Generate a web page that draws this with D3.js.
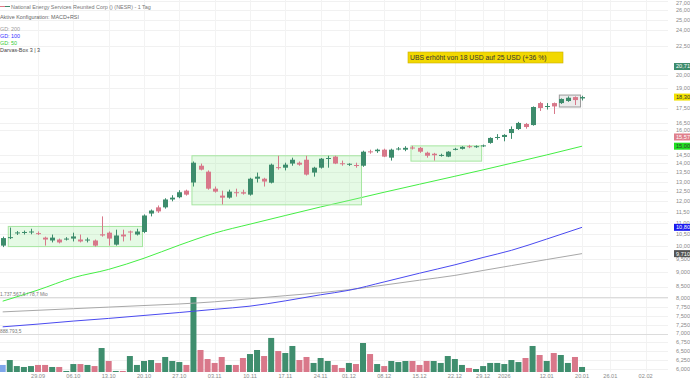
<!DOCTYPE html>
<html>
<head>
<meta charset="utf-8">
<script src="https://cdn.jsdelivr.net/npm/d3@7"></script>
<style>
  body { margin: 0; background: #fff; }
  svg { display: block; font-family: "Liberation Sans", Arial, sans-serif; }
</style>
</head>
<body>
<svg id="chart" width="690" height="380"></svg>
<script>
// trading days shown as candles
const dates = [
  "22.09","23.09","24.09","25.09","26.09","29.09","30.09",
  "01.10","02.10","03.10","06.10","07.10","08.10","09.10","10.10","13.10","14.10","15.10","16.10","17.10",
  "20.10","21.10","22.10","23.10","24.10","27.10","28.10","29.10","30.10","31.10",
  "03.11","04.11","05.11","06.11","07.11","10.11","11.11","12.11","13.11","14.11",
  "17.11","18.11","19.11","20.11","21.11","24.11","25.11","26.11","28.11",
  "01.12","02.12","03.12","04.12","05.12","08.12","09.12","10.12","11.12","12.12",
  "15.12","16.12","17.12","18.12","19.12","22.12","23.12","24.12","26.12","29.12","30.12","31.12",
  "02.01","05.01","06.01","07.01","08.01","09.01","12.01","13.01","14.01","15.01","16.01","20.01"
];
// empty days to the right of the last candle
const futureDates = ["21.01","22.01","23.01","26.01","27.01","28.01","29.01","30.01","02.02","03.02","04.02"];

const open = [10.03,10.34,10.55,10.57,10.58,10.55,10.36,10.24,10.28,10.30,10.32,10.28,10.24,10.24,10.50,10.57,10.07,10.49,10.62,10.49,
  10.60,11.42,11.71,11.71,12.09,12.20,12.53,12.95,13.86,13.53,12.63,12.28,12.18,12.45,12.45,12.33,13.15,13.15,12.94,13.78,
  13.75,13.98,14.03,14.20,13.48,13.75,14.27,14.38,14.00,13.93,13.90,13.86,14.69,14.70,14.79,14.32,14.82,14.79,14.92,14.90,
  14.61,14.55,14.45,14.38,14.82,14.84,15.00,14.96,15.02,15.20,15.52,15.57,15.82,16.08,16.41,16.34,17.86,17.60,17.86,17.86,
  18.01,18.30,18.20];
const high = [10.40,10.79,10.64,10.66,10.74,10.62,10.40,10.49,10.32,10.38,10.57,10.49,10.36,10.28,11.29,10.62,10.70,10.70,10.66,10.74,
  11.38,11.61,11.80,12.15,12.30,12.55,12.58,14.10,13.98,13.60,12.74,12.53,12.58,12.63,12.58,13.20,13.48,13.20,13.98,14.43,
  14.03,14.32,14.10,14.43,13.80,14.30,14.43,14.43,14.15,14.00,14.03,14.73,14.79,14.85,14.85,14.85,14.95,15.00,15.02,14.95,
  14.67,14.60,14.55,14.70,14.90,15.00,15.08,15.05,15.10,15.55,15.75,15.75,16.25,16.55,16.48,17.62,17.95,17.86,17.90,18.20,
  18.35,18.35,18.40];
const low = [9.97,10.30,10.47,10.49,10.50,10.47,10.03,10.16,10.12,10.24,10.20,10.16,10.16,9.99,10.40,10.03,10.03,10.20,10.24,10.45,
  10.55,11.29,11.45,11.65,12.00,12.15,12.28,12.74,13.60,12.58,12.43,11.85,12.13,12.23,12.33,12.28,12.95,12.74,12.90,13.64,
  13.60,13.86,13.86,13.32,13.26,13.70,13.75,13.95,13.86,13.85,13.75,13.80,14.55,14.60,14.35,14.15,14.75,14.70,14.80,14.60,
  14.32,14.15,14.38,14.35,14.75,14.80,14.88,14.90,14.95,15.15,15.40,15.30,15.45,16.02,16.10,16.30,17.30,17.40,17.09,17.80,
  17.95,17.72,18.05];
const close = [10.34,10.38,10.58,10.60,10.62,10.52,10.28,10.36,10.16,10.32,10.41,10.20,10.28,10.03,10.45,10.32,10.45,10.41,10.58,10.62,
  11.33,11.56,11.52,12.09,12.18,12.45,12.33,14.03,13.64,12.63,12.48,12.18,12.48,12.41,12.38,13.15,13.26,13.00,13.92,13.73,
  13.92,14.20,13.92,13.37,13.75,14.26,14.30,13.98,13.95,13.97,13.86,14.67,14.64,14.79,14.38,14.79,14.86,14.90,14.88,14.67,
  14.43,14.46,14.48,14.67,14.84,14.96,14.94,15.00,15.05,15.51,15.57,15.70,16.08,16.48,16.21,17.58,17.51,17.65,17.62,18.16,
  18.25,18.08,18.30];
// volume in million shares
const volume = [1.30,1.79,1.21,1.14,1.21,1.30,1.30,1.14,1.14,0.88,1.38,1.38,1.30,1.21,3.90,1.68,0.88,0.88,2.32,1.30,
  1.68,1.79,1.48,2.18,1.68,1.57,1.30,106.7,3.43,1.91,1.48,2.18,1.30,1.30,2.04,2.64,3.43,2.32,7.50,3.21,
  2.82,4.45,1.79,2.18,1.48,2.04,1.68,1.30,1.07,1.48,1.38,5.40,2.64,1.38,1.21,1.68,1.57,1.68,1.68,1.30,
  1.68,1.68,1.48,2.32,1.91,1.30,1.07,1.00,1.21,1.48,1.48,1.38,1.79,1.57,2.04,4.45,2.48,1.68,2.82,2.48,
  1.48,2.18,1.14];

// moving averages, read at the first trading day of each week
const maDates = ["22.09","29.09","06.10","13.10","20.10","27.10","03.11","10.11","17.11","24.11","01.12","08.12","15.12","22.12","29.12","05.01","12.01","20.01"];
const gd200 = [7.67,7.72,7.77,7.82,7.87,7.92,7.99,8.09,8.19,8.29,8.39,8.55,8.72,8.89,9.07,9.25,9.48,9.71];
const gd100 = [7.22,7.30,7.39,7.47,7.56,7.65,7.75,7.85,8.02,8.22,8.37,8.66,8.97,9.28,9.56,9.84,10.30,10.80];
const gd50  = [8.01,8.38,8.81,9.11,9.53,10.05,10.55,10.94,11.33,11.73,12.04,12.45,12.86,13.28,13.63,14.00,14.48,15.00];

// Darvas boxes
const boxStart = ["23.09","29.10","12.12","14.01"];
const boxEnd   = ["20.10","03.12","29.12","20.01"];
const boxTop   = [10.84,14.43,15.02,18.45];
const boxBottom= [9.99,11.83,14.12,17.58];
const boxKind  = ["done","done","done","open"];

const priceTicks = [27,26,25,24,22.5,20,19,17.5,16.5,16,14.5,14,13.5,13,12.5,12,11.5,11,10.5,10,9.5,9,8.5];
const volTicks = [6,6.25,6.5,6.75,7,7.25,7.5,7.75,8];
const xTicks = ["29.09","06.10","13.10","20.10","27.10","03.11","10.11","17.11","24.11","01.12","08.12","15.12","22.12","29.12","02.01","12.01","20.01","26.01","02.02"];

const tagValues = [20.71,18.30,15.57,15.00,10.80,9.71];
const tagTexts  = ["20,71","18,30","15,57","15,00","10,80","9,710"];
const tagFill   = ["#3d8c6c","#f2e200","#e0808c","#1fe01f","#1a1aee","#555555"];
const tagInk    = ["#fff","#333","#fff","#333","#fff","#fff"];

const legendLines = ["GD: 200","GD: 100","GD: 50","Darvas-Box 3 | 3"];
const legendColors = ["#999","#3333ff","#33cc33","#444"];

const note = "UBS erhöht von 18 USD auf 25 USD (+36 %)";

// ---------------------------------------------------------------
const svg = d3.select("#chart");
const allDates = dates.concat(futureDates);
const x = d3.scalePoint().domain(allDates).range([2.7, 2.7 + 7.065 * (allDates.length - 1)]);
const y = d3.scaleLog().domain([8.5, 27]).range([286.5, 1]);
const yVol = d3.scaleLog().domain([1e6, 1e8]).range([369, 298]);
const volBase = 372;
const plotRight = 668;

const green = "#3d8c6c", red = "#d8788a";
const fmt2 = v => d3.format(".2f")(v).replace(".", ",");
const fmtSmall = v => d3.format(".3f")(v).replace(".", ",");

// grid
const grid = svg.append("g");
grid.selectAll("line.h").data(priceTicks).join("line")
  .attr("x1", 0).attr("x2", plotRight)
  .attr("y1", d => Math.round(y(d)) + 0.5).attr("y2", d => Math.round(y(d)) + 0.5)
  .attr("stroke", "#f1f1f1");
grid.selectAll("line.v").data(xTicks).join("line")
  .attr("x1", d => Math.round(x(d)) + 0.5).attr("x2", d => Math.round(x(d)) + 0.5)
  .attr("y1", 0).attr("y2", volBase)
  .attr("stroke", "#f3f3f3");
grid.selectAll("line.vg").data(volTicks).join("line")
  .attr("x1", 0).attr("x2", plotRight)
  .attr("y1", d => Math.round(yVol(10 ** d)) + 0.5).attr("y2", d => Math.round(yVol(10 ** d)) + 0.5)
  .attr("stroke", (d) => d === 7 ? "#dcdcdc" : "#f1f1f1");
svg.append("line").attr("x1", 0).attr("x2", plotRight).attr("y1", 297.5).attr("y2", 297.5).attr("stroke", "#dcdcdc");

// volume bars
const prevClose = (i) => i === 0 ? null : close[i - 1];
svg.append("g").selectAll("rect").data(dates).join("rect")
  .attr("x", d => x(d) - 3)
  .attr("width", 6)
  .attr("y", (d, i) => Math.min(volBase - 1, yVol(volume[i] * 1e6)))
  .attr("height", (d, i) => volBase - Math.min(volBase - 1, yVol(volume[i] * 1e6)))
  .attr("fill", (d, i) => i === 0 ? "#7ea6ea" : (close[i] >= prevClose(i) ? "#3f8e6e" : "#d9788a"));

// moving averages
const maLine = d3.line().x(d => x(d[0])).y(d => y(d[1])).curve(d3.curveMonotoneX);
[[gd200, "#a8a8a8"], [gd100, "#4a4af0"], [gd50, "#44ee44"]].forEach(([vals, col]) => {
  svg.append("path")
    .attr("d", maLine(maDates.map((d, i) => [d, vals[i]])))
    .attr("fill", "none").attr("stroke", col).attr("stroke-width", 1);
});

// Darvas boxes
svg.append("g").selectAll("rect").data(boxStart).join("rect")
  .attr("x", (d) => x(d) - 1.5)
  .attr("width", (d, i) => x(boxEnd[i]) - x(d))
  .attr("y", (d, i) => y(boxTop[i]))
  .attr("height", (d, i) => y(boxBottom[i]) - y(boxTop[i]))
  .attr("fill", (d, i) => boxKind[i] === "open" ? "rgba(200,200,200,0.35)" : "rgba(150,235,150,0.25)")
  .attr("stroke", (d, i) => boxKind[i] === "open" ? "#9a9a9a" : "#a6e6a0")
  .attr("stroke-width", 1);

// candles
const candles = svg.append("g").selectAll("g").data(dates).join("g");
candles.append("line")
  .attr("x1", d => Math.round(x(d)) + 0.5).attr("x2", d => Math.round(x(d)) + 0.5)
  .attr("y1", (d, i) => y(high[i])).attr("y2", (d, i) => y(low[i]))
  .attr("stroke", (d, i) => close[i] >= open[i] ? green : red);
candles.append("rect")
  .attr("x", d => Math.round(x(d)) - 2)
  .attr("width", 5)
  .attr("y", (d, i) => y(Math.max(open[i], close[i])))
  .attr("height", (d, i) => Math.max(1, y(Math.min(open[i], close[i])) - y(Math.max(open[i], close[i]))))
  .attr("fill", (d, i) => close[i] >= open[i] ? green : red);

// right price axis
const axis = svg.append("g").attr("font-size", 5.6).attr("fill", "#8a8a8a");
axis.selectAll("text.p").data(priceTicks).join("text")
  .attr("x", 676).attr("y", d => Math.max(3, y(d))).attr("dy", "0.35em")
  .text(d => d >= 10 ? fmt2(d) : fmtSmall(d));
axis.selectAll("text.v").data(volTicks).join("text")
  .attr("x", 676).attr("y", d => yVol(10 ** d)).attr("dy", "0.35em")
  .text(d => fmtSmall(d));

// value tags
const tags = svg.append("g").selectAll("g").data(tagValues).join("g")
  .attr("transform", d => `translate(674,${y(d)})`);
tags.append("rect").attr("x", 0).attr("y", -3.5).attr("width", 16).attr("height", 7)
  .attr("fill", (d, i) => tagFill[i]);
tags.append("text").attr("x", 2).attr("dy", "0.35em").attr("font-size", 5.6)
  .attr("fill", (d, i) => tagInk[i]).text((d, i) => tagTexts[i]);

// x axis
svg.append("g").attr("font-size", 5.6).attr("fill", "#8a8a8a").attr("text-anchor", "middle")
  .selectAll("text").data(xTicks).join("text")
  .attr("x", d => x(d)).attr("y", 378)
  .text(d => d === "02.01" ? "2026" : d);

// legend
const lg = svg.append("g").attr("font-size", 5.4);
lg.append("line").attr("x1", 0).attr("x2", 5).attr("y1", 6.5).attr("y2", 6.5).attr("stroke", "#e07a86");
lg.append("line").attr("x1", 5).attr("x2", 10).attr("y1", 6.5).attr("y2", 6.5).attr("stroke", "#3d8c6c");
lg.append("text").attr("x", 11).attr("y", 8.5).attr("fill", "#777")
  .text("National Energy Services Reunited Corp () (NESR) - 1 Tag");
lg.append("text").attr("x", 0).attr("y", 19).attr("fill", "#666").text("Aktive Konfiguration: MACD+RSI");
lg.selectAll("text.l").data(legendLines).join("text")
  .attr("x", 0).attr("y", (d, i) => 31 + i * 7)
  .attr("fill", (d, i) => legendColors[i]).text(d => d);

// volume panel captions
svg.append("text").attr("x", 0).attr("y", 296).attr("font-size", 4.8).attr("fill", "#777").text("1.737.567,6 / 78,7 Mio");
svg.append("text").attr("x", 0).attr("y", 333).attr("font-size", 4.8).attr("fill", "#777").text("888.793,5");

// analyst note
const nb = svg.append("g").attr("transform", "translate(408,52)");
nb.append("rect").attr("width", 155).attr("height", 11).attr("fill", "#f2d800").attr("stroke", "#c9b000").attr("stroke-width", 0.6);
nb.append("text").attr("x", 2).attr("y", 8).attr("font-size", 6.8).attr("fill", "#333").text(note);
</script>
</body>
</html>
